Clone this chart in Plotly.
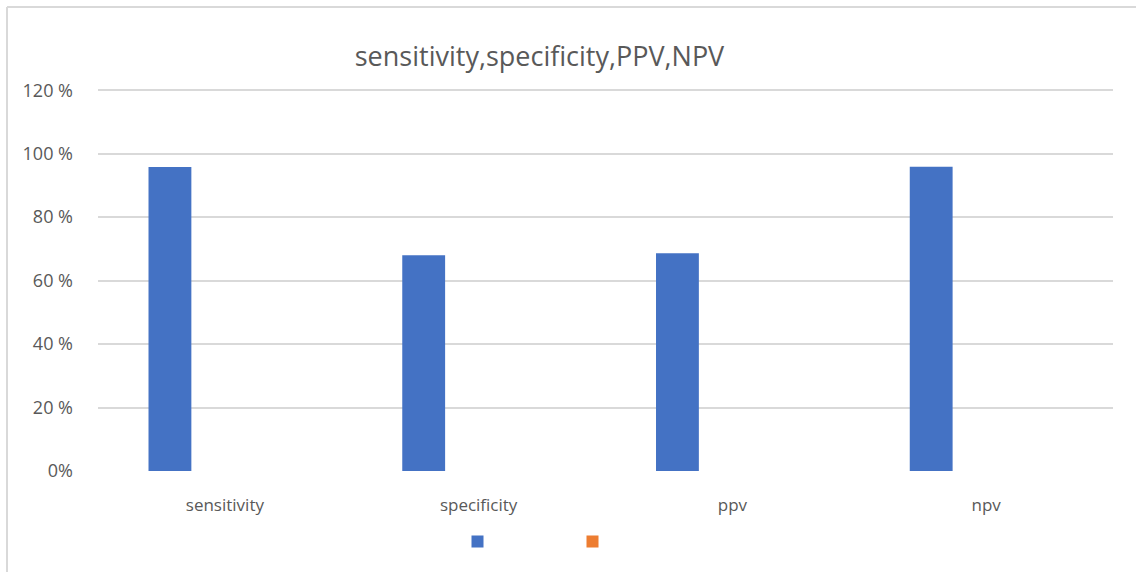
import plotly.graph_objects as go

categories = ["sensitivity", "specificity", "ppv", "npv"]
series1 = [95.8, 68.0, 68.6, 95.9]
series2 = [0, 0, 0, 0]
y_tickvals = [0, 20, 40, 60, 80, 100, 120]
y_ticktext = ["0%", "20 %", "40 %", "60 %", "80 %", "100 %", "120 %"]
title_text = "sensitivity,specificity,PPV,NPV"

W, H = 1136, 572
L, R, T, B = 98, 23, 89, 101
pw, ph = W - L - R, H - T - B

def px(x):
    return (x - L) / pw

def py(y):
    return (H - B - y) / ph

FONT = "Open Sans"
GRAY = "#595959"

fig = go.Figure()
fig.add_trace(go.Bar(x=categories, y=series1, name=" ", marker=dict(color="#4472C4", line=dict(width=0))))
fig.add_trace(go.Bar(x=categories, y=series2, name=" ", marker=dict(color="#ED7D31", line=dict(width=0))))

fig.update_layout(
    width=W, height=H,
    margin=dict(l=L, r=R, t=T, b=B),
    paper_bgcolor="white", plot_bgcolor="white",
    barmode="group", bargap=0.134, bargroupgap=0.61,
    title=dict(text=title_text, x=(355 + 724) / 2 / W, xanchor="center", y=1 - 57 / H, yanchor="middle",
               font=dict(family=FONT, size=27, color=GRAY)),
    xaxis=dict(showgrid=False, showline=False, ticks="", tickfont=dict(family=FONT, size=17, color=GRAY),
               ticklabelstandoff=22),
    yaxis=dict(range=[0, 120.4], tickvals=y_tickvals, ticktext=y_ticktext, showgrid=True,
               gridcolor="#d9d9d9", gridwidth=2, zeroline=False, showline=False, ticks="",
               tickfont=dict(family=FONT, size=18, color=GRAY), ticklabelstandoff=24),
    legend=dict(orientation="h", x=px(572.5), xanchor="center", y=py(542), yanchor="middle",
                font=dict(family=FONT, size=14, color=GRAY), entrywidth=70, entrywidthmode="pixels",
                itemwidth=30),
    showlegend=True,
    shapes=[
        dict(type="line", xref="paper", yref="paper", x0=px(7), x1=px(W), y0=py(7), y1=py(7),
             line=dict(color="#d9d9d9", width=2)),
        dict(type="line", xref="paper", yref="paper", x0=px(7), x1=px(7), y0=py(7), y1=py(H),
             line=dict(color="#d9d9d9", width=2)),
    ],
)

fig.write_html("out.html", config={"displayModeBar": False},
               post_script="document.body.style.margin='0px';")
